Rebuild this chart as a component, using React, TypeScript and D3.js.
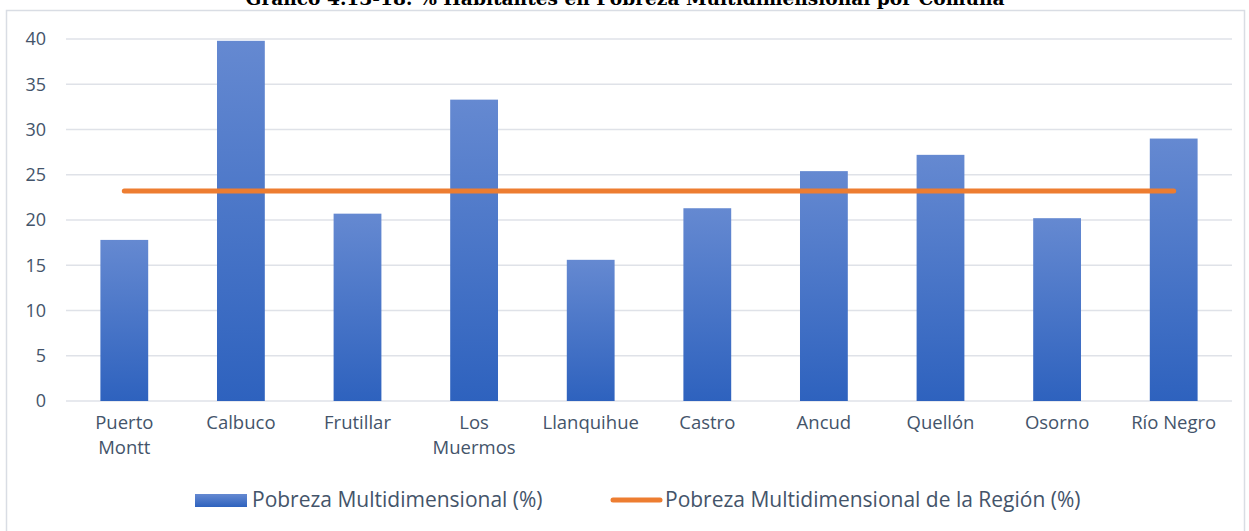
import { useMemo } from 'react';
import * as d3 from 'd3';

const comunas: string[][] = [
  ['Puerto', 'Montt'],
  ['Calbuco'],
  ['Frutillar'],
  ['Los', 'Muermos'],
  ['Llanquihue'],
  ['Castro'],
  ['Ancud'],
  ['Quellón'],
  ['Osorno'],
  ['Río Negro']
];
const pobrezaComuna = [17.8, 39.8, 20.7, 33.3, 15.6, 21.3, 25.4, 27.2, 20.2, 29.0];
const pobrezaRegion = [23.2, 23.2, 23.2, 23.2, 23.2, 23.2, 23.2, 23.2, 23.2, 23.2];
const yTicks = [0, 5, 10, 15, 20, 25, 30, 35, 40];

const title = 'Gráfico 4.13-18: % Habitantes en Pobreza Multidimensional por Comuna';
const seriesBarName = 'Pobreza Multidimensional (%)';
const seriesLineName = 'Pobreza Multidimensional de la Región (%)';

const W = 1249;
const H = 531;
const textColor = '#44546a';
const font = '"Open Sans", sans-serif';

export default function App() {
  const keys = comunas.map(c => c.join(' '));

  const x = useMemo(
    () => d3.scaleBand<string>().domain(keys).range([66, 1232]).paddingInner(0.59).paddingOuter(0.295),
    []
  );
  const y = useMemo(() => d3.scaleLinear().domain([0, 40]).range([401, 39]), []);

  const linePath = d3
    .line<number>()
    .x((_, i) => (x(keys[i]) ?? 0) + x.bandwidth() / 2)
    .y(d => y(d))(pobrezaRegion) ?? '';

  return (
    <svg
      width={W}
      height={H}
      style={{ position: 'absolute', left: 0, top: 0, background: '#fff' }}
    >
      <defs>
        <linearGradient id="barGrad" x1="0" y1="0" x2="0" y2="1">
          <stop offset="0%" stopColor="#6589d1" />
          <stop offset="100%" stopColor="#2e62be" />
        </linearGradient>
      </defs>

      <rect x={6.5} y={10.5} width={1238} height={540} fill="#fff" stroke="#d9dde4" strokeWidth={1.5} />

      <text
        x={625}
        y={5}
        textAnchor="middle"
        fontFamily='"DejaVu Serif", serif'
        fontWeight="bold"
        fontSize={18.6}
        fill="#000"
      >
        {title}
      </text>

      {yTicks.map(t => (
        <g key={t}>
          <line x1={66} x2={1232} y1={y(t)} y2={y(t)} stroke="#dfe2e8" strokeWidth={1.5} />
          <text
            x={46}
            y={y(t)}
            dy="0.36em"
            textAnchor="end"
            fontFamily={font}
            fontSize={18}
            fill={textColor}
          >
            {t}
          </text>
        </g>
      ))}

      {pobrezaComuna.map((v, i) => (
        <rect
          key={keys[i]}
          x={x(keys[i])}
          y={y(v)}
          width={x.bandwidth()}
          height={y(0) - y(v)}
          fill="url(#barGrad)"
        />
      ))}

      <path d={linePath} fill="none" stroke="#ed7d31" strokeWidth={5} strokeLinecap="round" />

      {comunas.map((lines, i) => (
        <text
          key={keys[i]}
          x={(x(keys[i]) ?? 0) + x.bandwidth() / 2}
          y={429}
          textAnchor="middle"
          fontFamily={font}
          fontSize={18.5}
          fill={textColor}
        >
          {lines.map((l, j) => (
            <tspan key={j} x={(x(keys[i]) ?? 0) + x.bandwidth() / 2} dy={j === 0 ? 0 : 25}>
              {l}
            </tspan>
          ))}
        </text>
      ))}

      <g>
        <rect x={195} y={494} width={52} height={13} fill="url(#barGrad)" />
        <text x={252} y={507} fontFamily={font} fontSize={21} fill={textColor}>
          {seriesBarName}
        </text>
        <line x1={613} x2={660} y1={500} y2={500} stroke="#ed7d31" strokeWidth={5} strokeLinecap="round" />
        <text x={665} y={507} fontFamily={font} fontSize={21} fill={textColor}>
          {seriesLineName}
        </text>
      </g>
    </svg>
  );
}
